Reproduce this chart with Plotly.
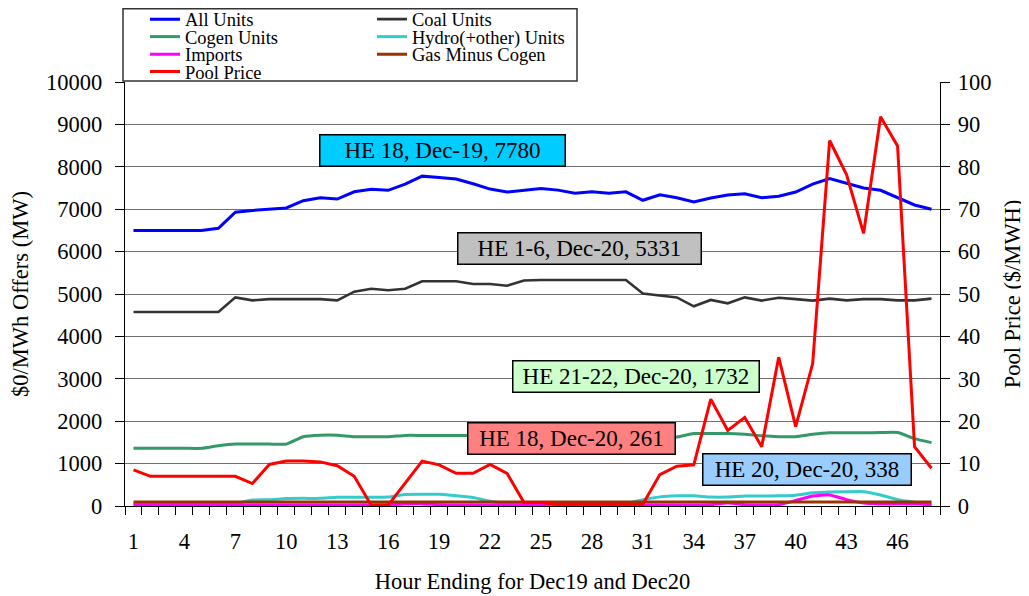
import plotly.graph_objects as go

hours = list(range(1, 49))
x_tick_vals = [1, 4, 7, 10, 13, 16, 19, 22, 25, 28, 31, 34, 37, 40, 43, 46]
x_tick_text = [str(v) for v in x_tick_vals]

all_units = [6500, 6500, 6500, 6500, 6500, 6550, 6930, 6970, 7000, 7030,
             7200, 7270, 7240, 7410, 7470, 7445, 7590, 7780, 7750, 7710,
             7600, 7475, 7405, 7450, 7490, 7450, 7375, 7410, 7375, 7410,
             7210, 7340, 7270, 7170, 7265, 7335, 7365, 7270, 7305, 7405,
             7590, 7720, 7610, 7500, 7445, 7280, 7100, 7000]
coal_units = [4575, 4575, 4575, 4575, 4575, 4575, 4920, 4850, 4880, 4880,
              4880, 4880, 4850, 5055, 5125, 5090, 5125, 5300, 5300, 5300,
              5235, 5235, 5195, 5320, 5331, 5331, 5331, 5331, 5331, 5331,
              5010, 4960, 4920, 4710, 4860, 4780, 4920, 4845, 4910, 4880,
              4845, 4890, 4850, 4880, 4880, 4850, 4850, 4890]
cogen_units = [1360, 1360, 1360, 1360, 1360, 1420, 1460, 1460, 1460, 1460,
               1635, 1670, 1670, 1635, 1635, 1635, 1665, 1665, 1665, 1665,
               1665, 1665, 1660, 1650, 1650, 1650, 1650, 1650, 1650, 1650,
               1640, 1625, 1625, 1710, 1710, 1710, 1690, 1655, 1635, 1635,
               1690, 1725, 1725, 1725, 1732, 1732, 1590, 1495]
hydro_units = [50, 50, 50, 50, 50, 50, 60, 140, 150, 175,
               180, 180, 205, 205, 205, 210, 270, 275, 275, 240,
               200, 110, 60, 50, 50, 50, 50, 50, 50, 50,
               150, 215, 240, 240, 210, 210, 235, 235, 240, 255,
               310, 330, 335, 338, 260, 150, 90, 40]
imports = [25, 25, 25, 25, 25, 25, 25, 25, 25, 25,
           25, 25, 25, 25, 25, 30, 45, 50, 30, 25,
           25, 25, 25, 25, 25, 25, 25, 25, 25, 25,
           25, 25, 25, 25, 30, 70, 30, 25, 30, 130,
           235, 261, 150, 70, 50, 45, 45, 30]
gas_minus_cogen = [95] * 48
pool_price = [8.5, 7.0, 7.0, 7.0, 7.0, 7.0, 7.0, 5.3, 9.8, 10.6,
              10.6, 10.4, 9.5, 7.0, 0.2, 0.2, 5.3, 10.6, 9.7, 7.7,
              7.7, 9.8, 7.7, 0.8, 0.8, 0.4, 0.4, 0.4, 0.4, 0.4,
              0.4, 7.4, 9.4, 9.7, 25.2, 17.8, 20.9, 14.0, 35.1, 18.7,
              33.6, 86.2, 78.1, 64.3, 91.8, 84.9, 14.0, 8.9]

series = [
    ("All Units", all_units, "#0000FF", 3, "linear", "legend", "y"),
    ("Coal Units", coal_units, "#333333", 2.6, "linear", "legend", "y"),
    ("Cogen Units", cogen_units, "#339966", 3, "spline", "legend2", "y"),
    ("Hydro(+other) Units", hydro_units, "#33CCCC", 3, "spline", "legend2", "y"),
    ("Imports", imports, "#FF00FF", 3, "spline", "legend3", "y"),
    ("Gas Minus Cogen", gas_minus_cogen, "#993300", 3, "linear", "legend3", "y"),
    ("Pool Price", pool_price, "#FF0000", 3, "linear", "legend4", "y2"),
]

FONT = "Liberation Serif, Times New Roman, serif"

fig = go.Figure()
for name, vals, color, width, shape, leg, yax in series:
    line = dict(color=color, width=width, shape=shape)
    if shape == "spline":
        line["smoothing"] = 0.5
    fig.add_trace(go.Scatter(x=hours, y=vals, name=name, mode="lines",
                             line=line, legend=leg, yaxis=yax))

# annotation boxes
notes = [
    ("HE 18, Dec-19, 7780", 19.21, 8396, "#00CCFF", 242),
    ("HE 1-6, Dec-20, 5331", 27.29, 6073, "#C0C0C0", 240),
    ("HE 21-22, Dec-20, 1732", 30.62, 3066, "#CCFFCC", 243),
    ("HE 18, Dec-20, 261", 26.81, 1592, "#FF8080", 204),
    ("HE 20, Dec-20, 338", 40.66, 861, "#99CCFF", 205),
]
for text, nx, ny, bg, w in notes:
    fig.add_annotation(x=nx, y=ny, xref="x", yref="y", text=text, showarrow=False,
                       bgcolor=bg, bordercolor="#000000", borderwidth=1.5, borderpad=1,
                       width=w, height=28, align="center",
                       font=dict(family=FONT, size=23, color="#000000"))

# The page places the figure 8px from the top-left corner of the window,
# so the figure is sized and laid out to compensate.
OFF = 8
W, H = 1029 - OFF, 596 - OFF
PL, PR, PT, PB = 125 - OFF, 89, 82 - OFF, 90
pw, ph = W - PL - PR, H - PT - PB

def px_to_paper_x(px):
    return (px - OFF - PL) / pw

def px_to_paper_y(py):
    return (H - PB - (py - OFF)) / ph

legend_common = dict(orientation="h", bgcolor="rgba(0,0,0,0)", borderwidth=0,
                     font=dict(family=FONT, size=18.5, color="#000000"),
                     xanchor="left", yanchor="top", entrywidth=182, entrywidthmode="pixels",
                     x=px_to_paper_x(145))
row_tops = [0.6, 18.1, 35.6, 53.0]

fig.update_layout(
    width=W, height=H,
    margin=dict(l=PL, r=PR, t=PT, b=PB, autoexpand=False),
    paper_bgcolor="white", plot_bgcolor="white",
    font=dict(family=FONT, color="#000000"),
    showlegend=True,
    legend=dict(legend_common, y=px_to_paper_y(row_tops[0])),
    legend2=dict(legend_common, y=px_to_paper_y(row_tops[1])),
    legend3=dict(legend_common, y=px_to_paper_y(row_tops[2])),
    legend4=dict(legend_common, y=px_to_paper_y(row_tops[3])),
    xaxis=dict(range=[0.5, 48.5], tickmode="array", tickvals=x_tick_vals, ticktext=x_tick_text,
               ticks="", showgrid=False, zeroline=False, showline=True, linecolor="#000000",
               linewidth=1.3, tickfont=dict(family=FONT, size=22.5, color="#000000"),
               ticklabelstandoff=15,
               minor=dict(ticks="outside", ticklen=8, tick0=0.5, dtick=1, tickcolor="#000000",
                          tickwidth=1, showgrid=False),
               title=dict(text="Hour Ending for Dec19 and Dec20", standoff=20,
                          font=dict(family=FONT, size=22.5, color="#000000"))),
    yaxis=dict(range=[0, 10000], dtick=1000, tick0=0, tickformat="d", ticks="outside", ticklen=9,
               tickcolor="#000000", showgrid=True, gridcolor="#707070", gridwidth=1,
               zeroline=False, showline=True, linecolor="#000000", linewidth=1.3,
               tickfont=dict(family=FONT, size=22.5, color="#000000"), ticklabelstandoff=8,
               title=dict(text="$0/MWh Offers (MW)", standoff=13,
                          font=dict(family=FONT, size=22.5, color="#000000"))),
    yaxis2=dict(range=[0, 100], dtick=10, tick0=0, tickformat="d", overlaying="y", side="right",
                ticks="outside", ticklen=9, tickcolor="#000000", showgrid=False,
                zeroline=False, showline=True, linecolor="#000000", linewidth=1.3,
                tickfont=dict(family=FONT, size=22.5, color="#000000"), ticklabelstandoff=3,
                title=dict(text="Pool Price ($/MWH)", standoff=13,
                           font=dict(family=FONT, size=22.5, color="#000000"))),
    shapes=[dict(type="rect", xref="paper", yref="paper",
                 x0=px_to_paper_x(123), x1=px_to_paper_x(577),
                 y0=px_to_paper_y(81), y1=px_to_paper_y(8.8),
                 line=dict(color="#333333", width=1.5), fillcolor="rgba(0,0,0,0)",
                 layer="above")],
)

fig.write_html("out.html")
